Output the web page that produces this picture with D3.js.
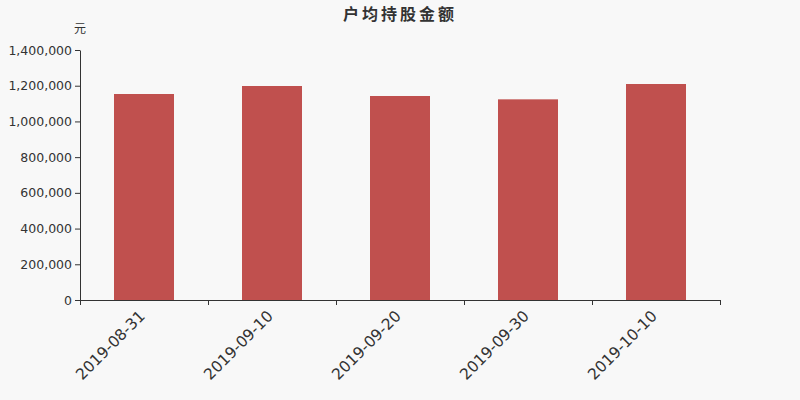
<!DOCTYPE html>
<html><head><meta charset="utf-8">
<script src="https://cdn.jsdelivr.net/npm/d3@7"></script>
<style>
html,body{margin:0;padding:0;background:#f8f8f8;}
svg{display:block;}
svg text{font-family:"DejaVu Sans","Noto Sans CJK SC",sans-serif;}
</style></head>
<body>
<svg id="c" width="800" height="400"></svg>
<script>
const categories = ["2019-08-31","2019-09-10","2019-09-20","2019-09-30","2019-10-10"];
const values = [1153600,1198400,1142400,1123700,1209600];
const yTicks = [0,200000,400000,600000,800000,1000000,1200000,1400000];
const titleText = "户均持股金额";
const unitText = "元";

const FONT = '"DejaVu Sans","Noto Sans CJK SC",sans-serif';
const svg = d3.select("#c");
svg.append("rect").attr("width",800).attr("height",400).attr("fill","#f8f8f8");
const m = {l:80, r:720, t:50, b:300};
const x = d3.scaleBand().domain(categories).range([m.l,m.r]).paddingInner(0).paddingOuter(0);
const y = d3.scaleLinear().domain([0,1400000]).range([m.b,m.t]);
const bw = 60;

svg.append("g").selectAll("rect").data(values).join("rect")
  .attr("x",(d,i)=>x(categories[i])+x.bandwidth()/2-bw/2)
  .attr("y",d=>y(d)).attr("width",bw).attr("height",d=>y(0)-y(d))
  .attr("fill","#c0504e");

const fmt = d3.format(",");
const ya = svg.append("g").attr("transform",`translate(${m.l},0)`)
  .call(d3.axisLeft(y).tickValues(yTicks).tickFormat(fmt).tickSize(5).tickSizeOuter(0));
ya.attr("font-family",FONT);
ya.select(".domain").attr("stroke","#333");
ya.selectAll(".tick line").attr("stroke","#333");
ya.selectAll("text").attr("fill","#333").attr("font-size",12.5).attr("x",-8);

const xa = svg.append("g").attr("transform",`translate(0,${m.b})`)
  .call(d3.axisBottom(x).tickSize(0).tickSizeOuter(0));
xa.attr("font-family",FONT);
xa.select(".domain").attr("stroke","#333");
xa.selectAll(".tick line").remove();
xa.selectAll("text").attr("fill","#333").attr("font-size",15.5)
  .attr("text-anchor","end").attr("dy","0").attr("y",0)
  .attr("transform","translate(2,17) rotate(-45)");
const bounds = categories.map(c=>x(c)).concat([m.r]);
svg.append("g").selectAll("line").data(bounds).join("line")
  .attr("x1",d=>d+0.5).attr("x2",d=>d+0.5).attr("y1",m.b).attr("y2",m.b+5)
  .attr("stroke","#333");

svg.append("text").attr("x",400).attr("y",20).attr("text-anchor","middle")
  .attr("font-size",16).attr("font-weight","bold").attr("fill","#333")
  .attr("letter-spacing",3).text(titleText);
svg.append("text").attr("x",80).attr("y",33).attr("text-anchor","middle")
  .attr("font-size",12).attr("fill","#333").text(unitText);
</script>
</body></html>
